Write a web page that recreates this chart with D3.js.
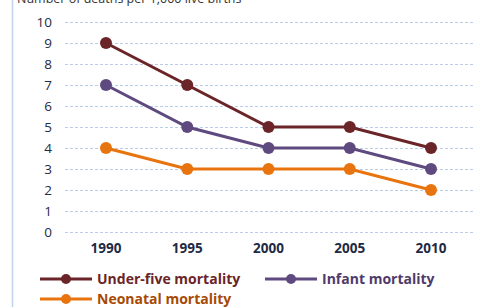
<!DOCTYPE html>
<html>
<head>
<meta charset="utf-8">
<script src="https://cdn.jsdelivr.net/npm/d3@7"></script>
<style>
  body { margin: 0; background: #fff; }
  text { font-family: "Open Sans", "Noto Sans", sans-serif; }
</style>
</head>
<body>
<div id="chart"></div>
<script>
// chart data
var years = ["1990", "1995", "2000", "2005", "2010"];
var underFive = [9, 7, 5, 5, 4];
var infant = [7, 5, 4, 4, 3];
var neonatal = [4, 3, 3, 3, 2];
var yTicks = [0, 1, 2, 3, 4, 5, 6, 7, 8, 9, 10];
var seriesNames = ["Under-five mortality", "Infant mortality", "Neonatal mortality"];

var colors = ["#6b2427", "#5f4a80", "#e8740f"];
var textColors = ["#6b2427", "#4e3b6a", "#a64a06"];

var width = 478, height = 307;
var svg = d3.select("#chart").append("svg")
    .attr("width", width)
    .attr("height", height);

// left border
svg.append("line")
    .attr("x1", 12.5).attr("x2", 12.5)
    .attr("y1", 0).attr("y2", height)
    .style("stroke", "#c3d3ec")
    .style("stroke-width", 1.5);

// title, cut off at the top as in the original
svg.append("text")
    .text("Number of deaths per 1,000 live births")
    .attr("x", 17)
    .attr("y", 3)
    .style("font-size", "12.5px")
    .style("fill", "#333");

var x = d3.scalePoint().domain(years).range([106, 431]);
var y = d3.scaleLinear().domain([0, 10]).range([232, 22]);

// grid lines
svg.append("g").selectAll("line")
    .data(yTicks)
    .enter().append("line")
    .attr("x1", 65).attr("x2", 473)
    .attr("y1", function(d) { return y(d) + 0.5; })
    .attr("y2", function(d) { return y(d) + 0.5; })
    .style("stroke", "#b9cdea")
    .style("stroke-dasharray", "3,2")
    .style("stroke-width", 1);

// y labels
svg.append("g").selectAll("text")
    .data(yTicks)
    .enter().append("text")
    .text(function(d) { return d; })
    .attr("x", 52)
    .attr("y", function(d) { return y(d); })
    .attr("dy", "0.36em")
    .attr("text-anchor", "end")
    .style("font-size", "13.5px")
    .style("fill", "#1f2a44");

// x labels
svg.append("g").selectAll("text")
    .data(years)
    .enter().append("text")
    .text(function(d) { return d; })
    .attr("x", function(d) { return x(d); })
    .attr("y", 248)
    .attr("dy", "0.36em")
    .attr("text-anchor", "middle")
    .style("font-size", "13.5px")
    .style("font-weight", "bold")
    .style("fill", "#1f2a44");

var allSeries = [underFive, infant, neonatal];
var line = d3.line()
    .x(function(d, i) { return x(years[i]); })
    .y(function(d) { return y(d); });

// draw bottom series first so under-five sits on top
for (var s = allSeries.length - 1; s >= 0; s--) {
    var g = svg.append("g");
    g.append("path")
        .datum(allSeries[s])
        .attr("d", line)
        .style("fill", "none")
        .style("stroke", colors[s])
        .style("stroke-width", 3);
    g.selectAll("circle")
        .data(allSeries[s])
        .enter().append("circle")
        .attr("cx", function(d, i) { return x(years[i]); })
        .attr("cy", function(d) { return y(d); })
        .attr("r", 6)
        .style("fill", colors[s]);
}

// legend
var legendPos = [[40, 279], [265, 279], [40, 299]];
for (var k = 0; k < seriesNames.length; k++) {
    var lg = svg.append("g")
        .attr("transform", "translate(" + legendPos[k][0] + "," + legendPos[k][1] + ")");
    lg.append("line")
        .attr("x1", 0).attr("x2", 52)
        .attr("y1", 0).attr("y2", 0)
        .style("stroke", colors[k])
        .style("stroke-width", 3);
    lg.append("circle")
        .attr("cx", 26).attr("cy", 0).attr("r", 5)
        .style("fill", colors[k]);
    lg.append("text")
        .text(seriesNames[k])
        .attr("x", 57)
        .attr("y", 0)
        .attr("dy", "0.36em")
        .style("font-size", "14px")
        .style("font-weight", "bold")
        .style("fill", textColors[k]);
}
</script>
</body>
</html>
